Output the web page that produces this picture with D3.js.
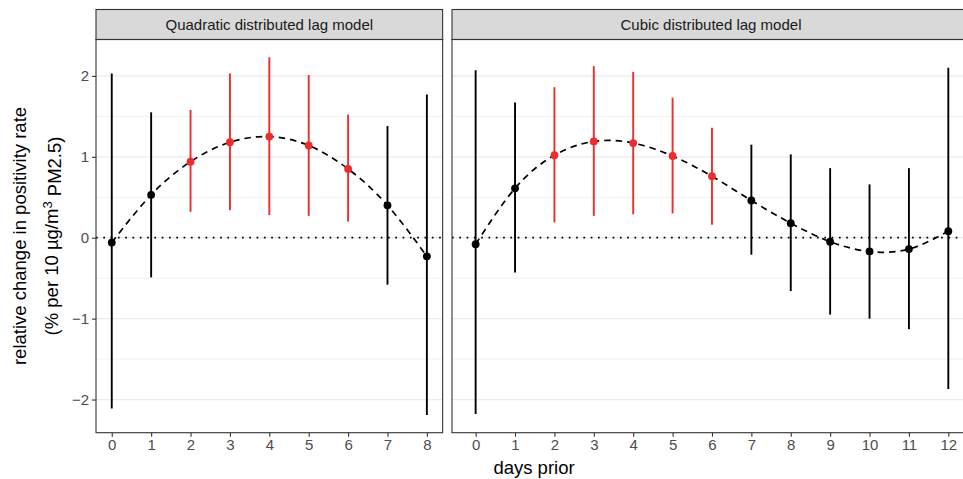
<!DOCTYPE html>
<html>
<head>
<meta charset="utf-8">
<script src="https://cdn.jsdelivr.net/npm/d3@7"></script>
<style>
  body { margin: 0; background: #fff; }
  svg { font-family: "Liberation Sans", Arial, sans-serif; display: block; }
</style>
</head>
<body>
<svg id="chart" width="963" height="479"></svg>
<script>
// values
var panelTitles = ["Quadratic distributed lag model", "Cubic distributed lag model"];

var lagsQuad = [0, 1, 2, 3, 4, 5, 6, 7, 8];
var estQuad  = [-0.06, 0.53, 0.94, 1.18, 1.25, 1.14, 0.85, 0.40, -0.23];
var lowQuad  = [-2.11, -0.49, 0.32, 0.34, 0.28, 0.27, 0.20, -0.58, -2.19];
var highQuad = [2.03, 1.55, 1.58, 2.03, 2.23, 2.01, 1.52, 1.38, 1.77];

var lagsCubic = [0, 1, 2, 3, 4, 5, 6, 7, 8, 9, 10, 11, 12];
var estCubic  = [-0.08, 0.61, 1.02, 1.19, 1.17, 1.01, 0.76, 0.46, 0.18, -0.05, -0.17, -0.14, 0.08];
var lowCubic  = [-2.18, -0.43, 0.19, 0.27, 0.29, 0.30, 0.16, -0.21, -0.66, -0.95, -1.00, -1.13, -1.87];
var highCubic = [2.07, 1.67, 1.86, 2.12, 2.05, 1.73, 1.36, 1.15, 1.03, 0.86, 0.66, 0.86, 2.10];

var yTicks = [-2, -1, 0, 1, 2];
var yMinor = [-1.5, -0.5, 0.5, 1.5];

var svg = d3.select("#chart");
var red = "#EE2C2C";

var panelTop = 39.5, panelBottom = 432.7, stripTop = 9.5;
var unit = 39.39;

var y = d3.scaleLinear().domain([-2.41, 2.45]).range([panelBottom, panelTop]);

function makeRows(lags, est, low, high) {
    return lags.map(function(d, i) {
        return {lag: d, est: est[i], low: low[i], high: high[i]};
    });
}

var panels = [
    {title: panelTitles[0], rows: makeRows(lagsQuad, estQuad, lowQuad, highQuad),
     left: 96, dom: [-0.4, 8.4]},
    {title: panelTitles[1], rows: makeRows(lagsCubic, estCubic, lowCubic, highCubic),
     left: 452, dom: [-0.6, 12.6]}
];

panels.forEach(function(p, pi) {
    var w = (p.dom[1] - p.dom[0]) * unit;
    var x = d3.scaleLinear().domain(p.dom).range([p.left, p.left + w]);
    var g = svg.append("g");

    // strip
    g.append("rect")
        .attr("x", p.left).attr("y", stripTop)
        .attr("width", w).attr("height", panelTop - stripTop)
        .attr("fill", "#D9D9D9").attr("stroke", "#333333").attr("stroke-width", 1.1);
    g.append("text")
        .attr("x", pi == 1 ? 711 : p.left + w / 2).attr("y", (stripTop + panelTop) / 2)
        .attr("dy", "0.35em").attr("text-anchor", "middle")
        .attr("font-size", "15px").attr("fill", "#1A1A1A")
        .text(p.title);

    // grid
    g.selectAll(".minor").data(yMinor).enter().append("line")
        .attr("x1", p.left).attr("x2", p.left + w)
        .attr("y1", function(d) { return y(d); }).attr("y2", function(d) { return y(d); })
        .attr("stroke", "#EBEBEB").attr("stroke-width", 0.7);
    g.selectAll(".major").data(yTicks).enter().append("line")
        .attr("x1", p.left).attr("x2", p.left + w)
        .attr("y1", function(d) { return y(d); }).attr("y2", function(d) { return y(d); })
        .attr("stroke", "#EBEBEB").attr("stroke-width", 1.3);

    // zero line
    g.append("line")
        .attr("x1", p.left).attr("x2", p.left + w)
        .attr("y1", y(0)).attr("y2", y(0))
        .attr("stroke", "#000").attr("stroke-width", 1.7)
        .attr("stroke-dasharray", "1.7,5.6");

    // fitted curve
    var line = d3.line()
        .x(function(d) { return x(d.lag); })
        .y(function(d) { return y(d.est); })
        .curve(d3.curveNatural);
    g.append("path")
        .datum(p.rows)
        .attr("d", line)
        .attr("fill", "none").attr("stroke", "#000")
        .attr("stroke-width", 1.7).attr("stroke-dasharray", "6.5,5");

    // error bars
    g.selectAll(".bar").data(p.rows).enter().append("line")
        .attr("x1", function(d) { return x(d.lag); })
        .attr("x2", function(d) { return x(d.lag); })
        .attr("y1", function(d) { return y(d.low); })
        .attr("y2", function(d) { return y(d.high); })
        .attr("stroke", function(d) { return d.low > 0 ? red : "#000"; })
        .attr("stroke-width", 1.9);

    g.selectAll(".pt").data(p.rows).enter().append("circle")
        .attr("cx", function(d) { return x(d.lag); })
        .attr("cy", function(d) { return y(d.est); })
        .attr("r", 3.9)
        .attr("fill", function(d) { return d.low > 0 ? red : "#000"; });

    // border
    g.append("rect")
        .attr("x", p.left).attr("y", panelTop)
        .attr("width", w).attr("height", panelBottom - panelTop)
        .attr("fill", "none").attr("stroke", "#333333").attr("stroke-width", 1.1);

    // x axis
    var xAxis = d3.axisBottom(x).tickValues(p.rows.map(function(d) { return d.lag; }))
        .tickSize(4).tickPadding(3).tickFormat(d3.format("d"));
    var ax = g.append("g").attr("transform", "translate(0," + panelBottom + ")").call(xAxis);
    ax.attr("font-size", null).attr("font-family", null);
    ax.select(".domain").remove();
    ax.selectAll(".tick line").attr("stroke", "#333333").attr("stroke-width", 1.1);
    ax.selectAll(".tick text").attr("fill", "#4D4D4D").style("font-size", "15px");

    if (pi == 0) {
        var yAxis = d3.axisLeft(y).tickValues(yTicks).tickSize(4).tickPadding(3)
            .tickFormat(function(d) { return d < 0 ? "\u2212" + Math.abs(d) : d; });
        var ay = g.append("g").attr("transform", "translate(" + p.left + ",0)").call(yAxis);
        ay.attr("font-size", null).attr("font-family", null);
        ay.select(".domain").remove();
        ay.selectAll(".tick line").attr("stroke", "#333333").attr("stroke-width", 1.1);
        ay.selectAll(".tick text").attr("fill", "#4D4D4D").style("font-size", "15px");
    }
});

// axis titles
svg.append("text")
    .attr("x", 534).attr("y", 474)
    .attr("text-anchor", "middle").attr("font-size", "18.5px").attr("fill", "#000")
    .text("days prior");

var cy = 236;
svg.append("text")
    .attr("transform", "translate(26," + cy + ") rotate(-90)")
    .attr("text-anchor", "middle").attr("font-size", "18.5px").attr("fill", "#000")
    .text("relative change in positivity rate");

var t2 = svg.append("text")
    .attr("transform", "translate(58," + cy + ") rotate(-90)")
    .attr("text-anchor", "middle").attr("font-size", "18.5px").attr("fill", "#000");
t2.append("tspan").text("(% per 10 \u00b5g/m");
t2.append("tspan").attr("dy", "-0.5em").attr("font-size", "13px").text("3");
t2.append("tspan").attr("dy", "0.5em").text(" PM2.5)");
</script>
</body>
</html>
